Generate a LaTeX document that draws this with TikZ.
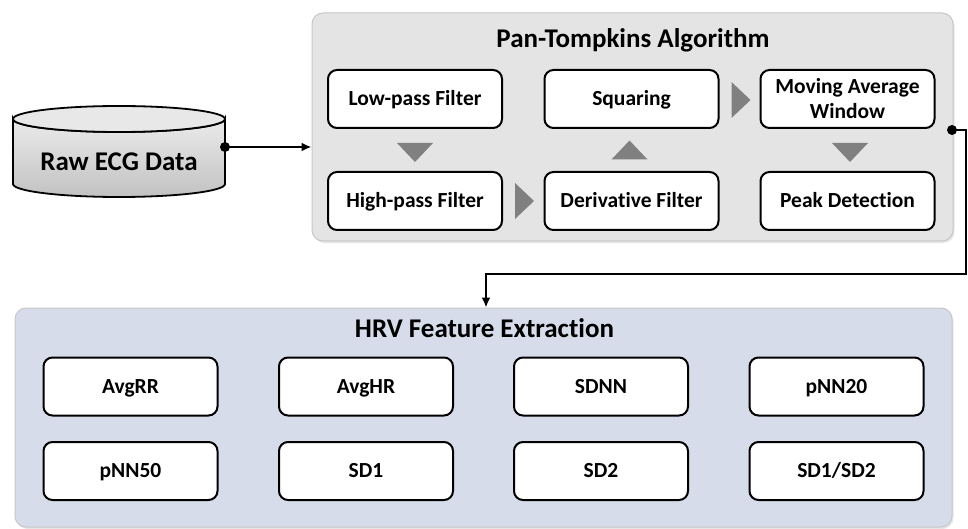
\documentclass[tikz,border=0pt]{standalone}
\usepackage{fontspec}
\setmainfont{Carlito}[Ligatures=NoCommon]
\usepackage{xcolor}
\usetikzlibrary{arrows.meta,shadows,positioning}
\definecolor{panfill}{HTML}{E4E4E4}
\definecolor{hrvfill}{HTML}{D6DCE9}
\tikzset{
    every node/.style={font=\fontsize{21.5}{26}\selectfont\bfseries},
    stagebox/.style={draw, line width=2pt, rounded corners=9pt, fill=white,
        minimum width=174pt, minimum height=58pt, align=center, inner sep=0pt,
        text height=18pt, text depth=4.5pt},
    groupbox/.style={draw=black!22, line width=1pt, rounded corners=11pt,
        drop shadow={shadow xshift=1.5pt, shadow yshift=-2pt, opacity=0.2}},
    titletext/.style={font=\fontsize{27}{32}\selectfont\bfseries},
    flowtri/.style={fill=black!50},
    link/.style={line width=2.2pt}
}

\begin{document}
\begin{tikzpicture}[x=1pt,y=-1pt]
                \useasboundingbox (0,0) rectangle (968,529);

                % Group panels
                \node[groupbox, fill=panfill, minimum width=641pt, minimum height=228pt] (pan) at (632.5,127) {};
                \node[groupbox, fill=hrvfill, minimum width=937pt, minimum height=219pt] (hrv) at (483.5,417.5) {};
                \node[titletext, anchor=base] (pantitle) at (633,48) {Pan-Tompkins Algorithm};
                \node[titletext, anchor=base] (hrvtitle) at (484.5,337) {HRV Feature Extraction};

                % Raw data cylinder
                \draw[line width=1.8pt, top color=black!8, bottom color=black!24]
                    (13,119) -- (13,184) arc[start angle=180, end angle=0, x radius=106, y radius=13]
                    -- (225,119) arc[start angle=0, end angle=180, x radius=106, y radius=13] -- cycle;
                \draw[line width=1.8pt, fill=black!9] (119,119) ellipse[x radius=106, y radius=13];
                \node[font=\fontsize{27}{32}\selectfont\bfseries] (raw) at (119,162) {Raw ECG Data};

                % Pan-Tompkins stages
                \node[stagebox] (lowpass) at (415,99) {Low-pass Filter};
                \node[stagebox] (highpass) at (415,201) {High-pass Filter};
                \node[stagebox] (deriv) at (631.5,201) {Derivative Filter};
                \node[stagebox] (squaring) at (631.5,99) {Squaring};
                \node[stagebox, text height=43pt] (movavg) at (847.5,99) {Moving Average\\[-1pt]Window};
                \node[stagebox] (peak) at (847.5,201) {Peak Detection};

                % Flow triangles (0 = down, 90 = right, 180 = up)
                \foreach \x/\y/\r in {415/152.5/0, 524.5/201/90, 629.5/150/180, 741/100/90, 850/152.5/0} {
                    \fill[flowtri, shift={(\x,\y)}, rotate=\r] (-18,-9.5) -- (18,-9.5) -- (0,9.5) -- cycle;
                }

                % HRV features
                \foreach \lab/\nm/\x/\y in {AvgRR/avgrr/130.5/386.5, AvgHR/avghr/366/386.5,
                        SDNN/sdnn/601/386.5, pNN20/pnntwenty/836.5/386.5,
                        pNN50/pnnfifty/130.5/471, SD1/sdone/366/471,
                        SD2/sdtwo/601/471, {SD1/SD2}/ratio/836.5/471} {
                    \node[stagebox] (\nm) at (\x,\y) {\lab};
                }

                % Connectors
                \coordinate (rawout) at (225,147);
                \coordinate (panout) at (952,130);
                \coordinate (bend) at (966,274);
                \coordinate (drop) at (486,274);
                \draw[link, -{Latex[length=10pt,width=9pt]}] (rawout) -- (rawout -| pan.west);
                \fill (rawout) circle (5pt);
                \draw[link, -{Latex[length=10pt,width=9pt]}] (panout) -| (bend) -- (drop) -- (drop |- hrv.north);
                \fill (panout) circle (5pt);
            \end{tikzpicture}
\end{document}
